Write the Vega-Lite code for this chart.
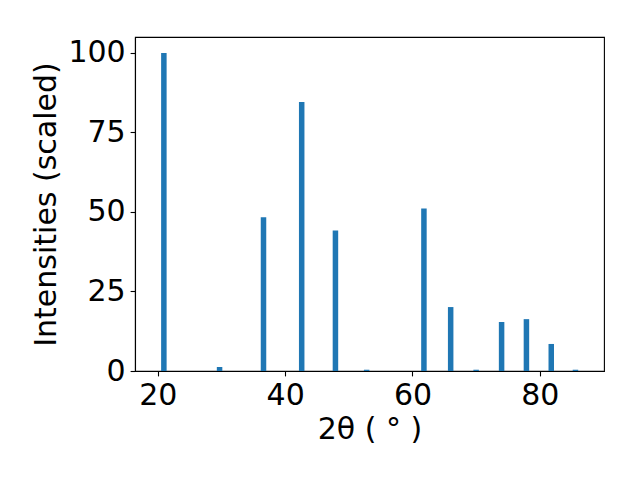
{
  "$schema": "https://vega.github.io/schema/vega-lite/v6.json",
  "width": 469,
  "height": 334,
  "autosize": {"type": "none"},
  "padding": {"left": 135, "top": 37, "right": 36, "bottom": 109},
  "background": "white",
  "config": {
    "view": {"stroke": "black", "strokeWidth": 1.1},
    "axis": {
      "grid": false,
      "domainColor": "black",
      "domainWidth": 1.1,
      "tickColor": "black",
      "tickWidth": 1.1,
      "tickSize": 4.9,
      "labelPadding": 4.9,
      "labelFont": "DejaVu Sans",
      "titleFont": "DejaVu Sans",
      "labelFontSize": 30,
      "titleFontSize": 30,
      "labelColor": "black",
      "titleColor": "black",
      "titleFontWeight": "normal",
      "labelFlush": false
    }
  },
  "data": {
    "values": [
      {"two_theta": 20.95, "intensity": 100},
      {"two_theta": 29.7, "intensity": 1.25},
      {"two_theta": 36.6, "intensity": 48.3},
      {"two_theta": 42.6, "intensity": 84.6},
      {"two_theta": 47.9, "intensity": 44.2},
      {"two_theta": 52.8, "intensity": 0.4},
      {"two_theta": 61.8, "intensity": 51.1},
      {"two_theta": 66.0, "intensity": 20.1},
      {"two_theta": 70.0, "intensity": 0.4},
      {"two_theta": 74.0, "intensity": 15.4},
      {"two_theta": 77.9, "intensity": 16.3},
      {"two_theta": 81.8, "intensity": 8.5},
      {"two_theta": 85.6, "intensity": 0.4}
    ]
  },
  "mark": {"type": "bar", "size": 5.5, "color": "#1f77b4"},
  "encoding": {
    "x": {
      "field": "two_theta",
      "type": "quantitative",
      "scale": {"domain": [17.2, 89.3], "nice": false, "zero": false},
      "axis": {"values": [20, 40, 60, 80], "title": "2θ ( ° )", "titleY": 67, "titleBaseline": "alphabetic"}
    },
    "y": {
      "field": "intensity",
      "type": "quantitative",
      "scale": {"domain": [0, 105], "nice": false},
      "axis": {"values": [0, 25, 50, 75, 100], "title": "Intensities (scaled)", "titleX": -80, "titleBaseline": "alphabetic"}
    }
  }
}
